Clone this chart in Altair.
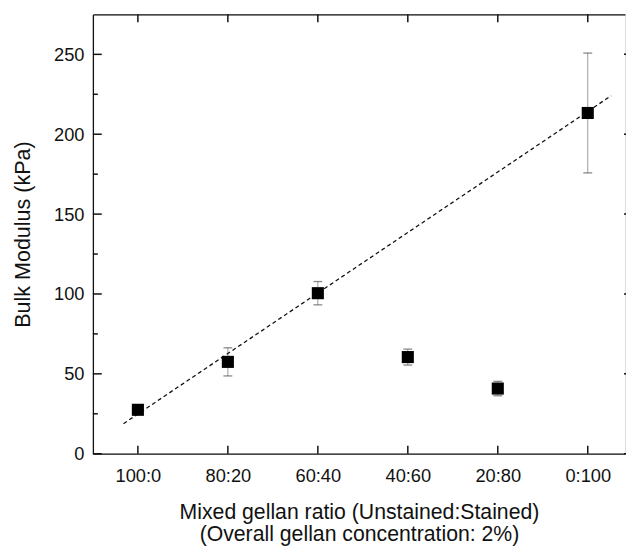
import json
import altair as alt
import pandas as pd

categories = ["100:0", "80:20", "60:40", "40:60", "20:80", "0:100"]
modulus = [27.5, 57.5, 100.5, 60.5, 40.8, 213.3]
error = [2.0, 8.8, 7.3, 5.0, 4.5, 37.5]

fit_x = [-0.16, 5.26]
fit_y = [18.8, 224.1]

y_major = [0, 50, 100, 150, 200, 250]
y_minor = [25, 75, 125, 175, 225]

FONT = "Liberation Sans"
W, H = 539, 445

df = pd.DataFrame({
    "idx": list(range(len(categories))),
    "cat": categories,
    "m": modulus,
    "lo": [m - e for m, e in zip(modulus, error)],
    "hi": [m + e for m, e in zip(modulus, error)],
})
fit_df = pd.DataFrame({"x": fit_x, "y": fit_y})
xt_df = pd.DataFrame({"idx": list(range(len(categories)))})
ymaj_df = pd.DataFrame({"v": y_major})
ymin_df = pd.DataFrame({"v": y_minor})

label_expr = json.dumps(categories) + "[datum.value]"

xscale = alt.Scale(domain=[-0.5, -0.5 + W / 91.14], nice=False, zero=False)
yscale = alt.Scale(domain=[0, 275], nice=False)

x_axis = alt.Axis(
    values=list(range(len(categories))), labelExpr=label_expr,
    ticks=False, grid=False, domain=True, domainColor="#111", domainWidth=1.3,
    labelFont=FONT, labelFontSize=18.5, labelColor="#111", labelPadding=13,
    title=["Mixed gellan ratio (Unstained:Stained)", "(Overall gellan concentration: 2%)"],
    titleFont=FONT, titleFontSize=21.5, titleFontWeight="normal", titleColor="#111",
    titlePadding=17, titleLineHeight=22.5,
)
y_axis = alt.Axis(
    values=y_major, ticks=False, grid=False, domain=True, domainColor="#111", domainWidth=1.3,
    labelFont=FONT, labelFontSize=18.5, labelColor="#111", labelPadding=9,
    title="Bulk Modulus (kPa)", titleFont=FONT, titleFontSize=21.8,
    titleFontWeight="normal", titleColor="#111", titlePadding=19,
)

base = alt.Chart(df)

err_rule = base.mark_rule(color="#999", strokeWidth=1).encode(
    x=alt.X("idx:Q", scale=xscale, axis=x_axis),
    y=alt.Y("lo:Q", scale=yscale, axis=y_axis),
    y2="hi:Q")
cap_lo = base.mark_tick(color="#555", orient="horizontal", size=9, thickness=1.3).encode(
    x="idx:Q", y="lo:Q")
cap_hi = base.mark_tick(color="#555", orient="horizontal", size=9, thickness=1.3).encode(
    x="idx:Q", y="hi:Q")

fit = alt.Chart(fit_df).mark_line(color="#111", strokeWidth=1.3, strokeDash=[4, 3]).encode(
    x="x:Q", y="y:Q")

points = base.mark_square(color="#000", size=150, opacity=1, filled=True).encode(
    x="idx:Q", y="m:Q")

tick_style = dict(color="#111", strokeWidth=1.5)

top_ticks = alt.Chart(xt_df).mark_rule(**tick_style).encode(
    x=alt.X("idx:Q", scale=xscale,
            axis=alt.Axis(orient="top", labels=False, ticks=False, grid=False,
                          domain=True, domainColor="#111", domainWidth=1.3, title=None)),
    y=alt.value(0), y2=alt.value(8))
bottom_ticks = alt.Chart(xt_df).mark_rule(**tick_style).encode(
    x="idx:Q", y=alt.value(H), y2=alt.value(H - 8))
left_major = alt.Chart(ymaj_df).mark_rule(**tick_style).encode(
    y=alt.Y("v:Q", scale=yscale), x=alt.value(0), x2=alt.value(9))
left_minor = alt.Chart(ymin_df).mark_rule(**tick_style).encode(
    y="v:Q", x=alt.value(0), x2=alt.value(5))
right_major = alt.Chart(ymaj_df).mark_rule(**tick_style).encode(
    y="v:Q", x=alt.value(W - 1), x2=alt.value(W + 8))

main = alt.layer(err_rule, cap_lo, cap_hi, fit, points, bottom_ticks, left_major,
                 left_minor, right_major)

chart = alt.layer(main, top_ticks).resolve_axis(x="independent").properties(
    width=W, height=H,
    autosize=alt.AutoSizeParams(type="none"),
    padding={"left": 86, "top": 3, "right": 1, "bottom": 93},
).configure_view(stroke=None).configure(background="white")

chart.save("out.html", embed_options={"renderer": "svg", "actions": False})
